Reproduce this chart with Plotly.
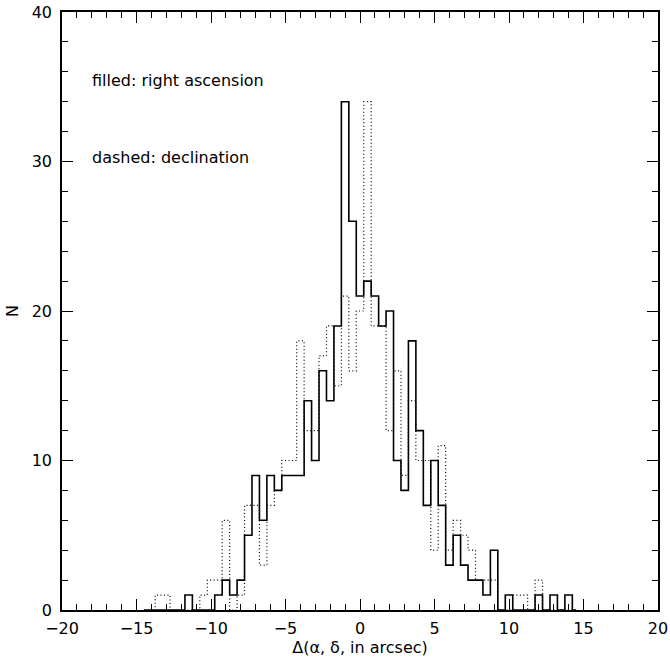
import plotly.graph_objects as go

bin_centers = [-14.5, -14, -13.5, -13, -12.5, -12, -11.5, -11, -10.5, -10,
               -9.5, -9, -8.5, -8, -7.5, -7, -6.5, -6, -5.5, -5,
               -4.5, -4, -3.5, -3, -2.5, -2, -1.5, -1, -0.5, 0,
               0.5, 1, 1.5, 2, 2.5, 3, 3.5, 4, 4.5, 5,
               5.5, 6, 6.5, 7, 7.5, 8, 8.5, 9, 9.5, 10,
               10.5, 11, 11.5, 12, 12.5, 13, 13.5, 14, 14.5]

ra_counts = [0, 0, 0, 0, 0, 0, 1, 0, 0, 0,
             1, 2, 1, 2, 5, 9, 6, 9, 8, 9,
             9, 9, 14, 10, 16, 14, 19, 34, 26, 21,
             22, 21, 19, 20, 10, 8, 18, 12, 7, 10,
             7, 3, 5, 3, 2, 2, 1, 4, 0, 1,
             0, 0, 0, 1, 0, 1, 0, 1, 0]

dec_counts = [0, 0, 1, 1, 0, 0, 0, 0, 1, 2,
              2, 6, 0, 1, 7, 7, 3, 7, 8, 10,
              10, 18, 12, 12, 17, 19, 15, 21, 16, 20,
              34, 19, 19, 12, 16, 9, 14, 10, 10, 4,
              11, 4, 6, 5, 4, 2, 2, 2, 0, 0,
              1, 1, 0, 2, 0, 0, 0, 0, 0]

x_ticks = [-20, -15, -10, -5, 0, 5, 10, 15, 20]
y_ticks = [0, 10, 20, 30, 40]

FONT = "DejaVu Sans"

fig = go.Figure()
fig.add_trace(go.Scatter(x=bin_centers, y=dec_counts, mode="lines",
                         line=dict(shape="hvh", color="black", width=1.2, dash="1px,2.5px"),
                         showlegend=False, hoverinfo="skip"))
fig.add_trace(go.Scatter(x=bin_centers, y=ra_counts, mode="lines",
                         line=dict(shape="hvh", color="black", width=1.6),
                         showlegend=False, hoverinfo="skip"))

axis_common = dict(showgrid=False, zeroline=False, showline=True, linecolor="black",
                   linewidth=1.5, mirror="allticks", ticks="inside", tickcolor="black",
                   tickwidth=1, ticklen=11, automargin=False,
                   tickfont=dict(family=FONT, size=16, color="black"))

fig.update_xaxes(range=[-20, 20], tickvals=x_ticks, ticklabelstandoff=3,
                 minor=dict(dtick=1, ticks="inside", ticklen=6, tickcolor="black", tickwidth=1),
                 title=dict(text="Δ(α, δ, in arcsec)", font=dict(family=FONT, size=16, color="black"),
                            standoff=1),
                 **axis_common)
fig.update_yaxes(range=[0, 40], tickvals=y_ticks, ticklabelstandoff=5,
                 minor=dict(dtick=2, ticks="inside", ticklen=6, tickcolor="black", tickwidth=1),
                 title=dict(text="N", font=dict(family=FONT, size=16, color="black"), standoff=9),
                 **axis_common)

fig.add_annotation(x=-18.1, y=35.4, text="filled: right ascension", showarrow=False,
                   xanchor="left", yanchor="middle",
                   font=dict(family=FONT, size=16, color="black"))
fig.add_annotation(x=-18.1, y=30.3, text="dashed: declination", showarrow=False,
                   xanchor="left", yanchor="middle",
                   font=dict(family=FONT, size=16, color="black"))

fig.update_layout(width=670, height=658, plot_bgcolor="white", paper_bgcolor="white",
                  margin=dict(l=62, r=12, t=12, b=48))

fig.write_html("out.html")
